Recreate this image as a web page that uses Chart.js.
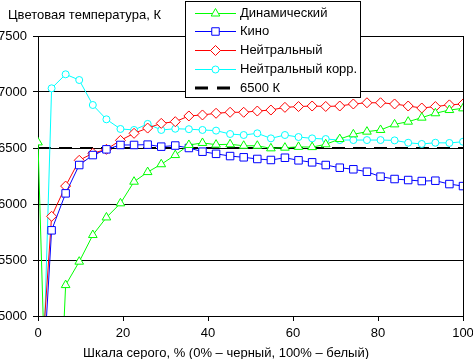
<!DOCTYPE html>
<html><head><meta charset="utf-8">
<script src="https://cdn.jsdelivr.net/npm/chart.js@4.4.1/dist/chart.umd.min.js"></script>
<style>html,body{margin:0;padding:0;background:#fff;overflow:hidden}canvas{display:block}</style>
</head><body>
<canvas id="c" width="473" height="359"></canvas>
<script>
// Gray level, %
const gray = [0, 3.2, 6.5, 9.7, 12.9, 16.1, 19.4, 22.6, 25.8, 29.0, 32.3, 35.5, 38.7, 41.9, 45.2, 48.4,
              51.6, 54.8, 58.1, 61.3, 64.5, 67.7, 71.0, 74.2, 77.4, 80.6, 83.9, 87.1, 90.3, 93.5, 96.8, 100];
// Colour temperature, K
const dynamic = [6550, 2450, 5276, 5485, 5723, 5880, 6006, 6199, 6285, 6355, 6437, 6527, 6545, 6530, 6533, 6520,
                 6520, 6497, 6503, 6510, 6508, 6533, 6580, 6622, 6646, 6661, 6711, 6735, 6771, 6810, 6839, 6854];
const cinema = [3700, 5765, 6095, 6348, 6437, 6488, 6527, 6527, 6530, 6512, 6522, 6500, 6467, 6448, 6428, 6417,
                6402, 6393, 6413, 6390, 6372, 6348, 6324, 6310, 6288, 6244, 6223, 6214, 6205, 6208, 6178, 6160];
const neutral = [4100, 5890, 6160, 6390, 6453, 6488, 6568, 6631, 6678, 6720, 6735, 6786, 6795, 6810, 6819, 6819,
                 6830, 6839, 6863, 6870, 6875, 6871, 6875, 6893, 6904, 6904, 6893, 6875, 6857, 6870, 6885, 6893];
const neutralCorr = [2900, 7033, 7158, 7107, 6884, 6756, 6670, 6661, 6715, 6661, 6672, 6668, 6661, 6655, 6625, 6616,
                     6631, 6586, 6616, 6598, 6586, 6580, 6571, 6571, 6571, 6571, 6568, 6547, 6536, 6547, 6545, 6556];
const refX = [0, 100];
const refY = [6500, 6500];
const seriesNames = ['Динамический', 'Кино', 'Нейтральный', 'Нейтральный корр.', '6500 К'];
const yTicks = [5000, 5500, 6000, 6500, 7000, 7500];
const xTicks = [0, 20, 40, 60, 80, 100];
const titleText = 'Цветовая температура, К';
const xTitleText = 'Шкала серого, % (0% – черный, 100% – белый)';

const FONT = '"Liberation Sans", Arial, sans-serif';
const pts = (xs, ys) => xs.map((x, i) => ({x: x, y: ys[i]}));

const styles = [
  {color: '#00ff00', pointStyle: 'triangle', r: 5},
  {color: '#0000ff', pointStyle: 'rect', r: 5.3},
  {color: '#ff0000', pointStyle: 'rectRot', r: 5},
  {color: '#00ffff', pointStyle: 'circle', r: 3.5},
];
const seriesData = [dynamic, cinema, neutral, neutralCorr];

const datasets = seriesData.map((d, i) => ({
  label: seriesNames[i],
  data: pts(gray, d),
  borderColor: styles[i].color,
  borderWidth: 1,
  pointStyle: styles[i].pointStyle,
  pointRadius: styles[i].r,
  pointBorderColor: styles[i].color,
  pointBackgroundColor: '#ffffff',
  pointBorderWidth: 1,
  tension: 0,
}));
datasets.push({
  label: seriesNames[4],
  data: pts(refX, refY),
  borderColor: '#000000',
  borderWidth: 2,
  borderDash: [13, 8],
  pointRadius: 0,
});

function drawMarker(ctx, style, r, x, y, color) {
  ctx.beginPath();
  if (style === 'triangle') {
    ctx.moveTo(x, y - r);
    ctx.lineTo(x + r * Math.cos(Math.PI / 6), y + r * 0.5);
    ctx.lineTo(x - r * Math.cos(Math.PI / 6), y + r * 0.5);
    ctx.closePath();
  } else if (style === 'rect') {
    const s = r * Math.SQRT1_2;
    ctx.rect(x - s, y - s, 2 * s, 2 * s);
  } else if (style === 'rectRot') {
    ctx.moveTo(x, y - r); ctx.lineTo(x + r, y); ctx.lineTo(x, y + r); ctx.lineTo(x - r, y); ctx.closePath();
  } else {
    ctx.arc(x, y, r, 0, Math.PI * 2);
  }
  ctx.fillStyle = '#fff'; ctx.fill();
  ctx.strokeStyle = color; ctx.lineWidth = 1; ctx.stroke();
}

const decor = {
  id: 'decor',
  afterDraw(chart) {
    const ctx = chart.ctx, a = chart.chartArea;
    ctx.save();
    // right frame
    ctx.strokeStyle = '#000'; ctx.lineWidth = 1;
    const rx = Math.round(a.right) + 0.5;
    ctx.beginPath(); ctx.moveTo(rx, Math.round(a.top)); ctx.lineTo(rx, Math.round(a.bottom)); ctx.stroke();
    // texts
    ctx.fillStyle = '#000';
    ctx.font = '13px ' + FONT;
    ctx.textBaseline = 'middle';
    ctx.textAlign = 'left';
    ctx.fillText(titleText, 8, 15);
    ctx.textAlign = 'center';
    ctx.fillText(xTitleText, 226, 353);
    // legend
    const lx = 185.5, ly = 1.5, lw = 175, lh = 96;
    ctx.fillStyle = '#fff'; ctx.fillRect(lx, ly, lw, lh);
    ctx.strokeStyle = '#000'; ctx.lineWidth = 1; ctx.strokeRect(lx, ly, lw, lh);
    ctx.textAlign = 'left';
    chart.data.datasets.forEach((ds, i) => {
      const y = 12.5 + i * 18.75;
      ctx.save();
      ctx.strokeStyle = ds.borderColor;
      if (ds.borderDash) { ctx.lineWidth = 3; ctx.setLineDash([13, 9]); } else { ctx.lineWidth = 1; }
      const yy = ds.borderDash ? Math.round(y) : Math.round(y) + 0.5;
      ctx.beginPath(); ctx.moveTo(195, yy); ctx.lineTo(ds.borderDash ? 231 : 236, yy); ctx.stroke();
      ctx.restore();
      if (!ds.borderDash) drawMarker(ctx, ds.pointStyle, ds.pointRadius, 215.5, Math.round(y) + 0.5, ds.borderColor);
      ctx.fillStyle = '#000';
      ctx.fillText(ds.label, 240, y + 0.5);
    });
    ctx.restore();
  }
};

new Chart(document.getElementById('c'), {
  type: 'line',
  data: {datasets},
  options: {
    responsive: false,
    animation: false,
    devicePixelRatio: 1,
    layout: {padding: {top: 36, right: 10, left: 0, bottom: 0}},
    plugins: {legend: {display: false}, tooltip: {enabled: false}},
    scales: {
      x: {
        type: 'linear', min: 0, max: 100,
        afterBuildTicks: s => { s.ticks = xTicks.map(v => ({value: v})); },
        afterFit: s => { s.height = 43; s.paddingLeft = 0; s.paddingRight = 0; },
        ticks: {color: '#000', font: {family: FONT, size: 13}, padding: 5, maxRotation: 0, callback: v => String(v)},
        grid: {drawOnChartArea: false, drawTicks: true, tickLength: 5, color: '#000', lineWidth: 1},
        border: {display: true, color: '#000', width: 1},
      },
      y: {
        type: 'linear', min: 5000, max: 7500,
        afterBuildTicks: s => { s.ticks = yTicks.map(v => ({value: v})); },
        afterFit: s => { s.width = 38; s.paddingTop = 0; s.paddingBottom = 0; },
        ticks: {color: '#000', font: {family: FONT, size: 13}, padding: 6, callback: v => String(v)},
        grid: {drawTicks: true, tickLength: 5, color: '#000', lineWidth: 1},
        border: {display: true, color: '#000', width: 1},
      }
    }
  },
  plugins: [decor]
});
</script>
</body></html>
